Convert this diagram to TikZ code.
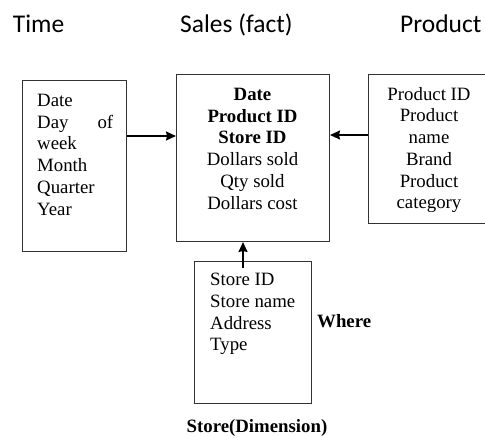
\documentclass[tikz,border=0pt]{standalone}
\usepackage{fontspec}
\setmainfont{Liberation Serif}
\newfontfamily\headfont{Carlito}
\usetikzlibrary{arrows.meta}

\begin{document}
\begin{tikzpicture}[x=1pt,y=-1pt,
		box/.style={draw=black!80,line width=1pt,inner sep=0pt,anchor=north west},
		field/.style={inner sep=0pt,font=\fontsize{18.8}{21.7}\selectfont},
		title/.style={inner sep=0pt,anchor=base west,font=\headfont\fontsize{25.5}{30}\selectfont},
		arr/.style={line width=1.5pt,-{Stealth[length=10pt,width=9pt,inset=1pt]}}]
	\useasboundingbox (0,0) rectangle (485,437);
	
	% Titles
	\node[title] (ttime) at (12.7,32.3) {Time};
	\node[title] (tsales) at (180,32.3) {Sales (fact)};
	\node[title] (tprod) at (400,32.3) {Product};
	
	% Boxes
	\node[box,minimum width=104pt,minimum height=171pt] (time) at (22,80) {};
	\node[box,minimum width=153pt,minimum height=167pt] (sales) at (176,74) {};
	\node[box,minimum width=122pt,minimum height=149pt] (product) at (368,74) {};
	\node[box,minimum width=117pt,minimum height=142pt] (store) at (194,261) {};
	
	% Fields
	\node[field,anchor=north west,text width=76pt,align=justify] (timef) at (37,94)
		{Date\\Day of week\\Month\\Quarter\\Year};
	\node[field,anchor=north,align=center] (salesf) at (252.5,88)
		{\textbf{Date}\\\textbf{Product ID}\\\textbf{Store ID}\\Dollars sold\\Qty sold\\Dollars cost};
	\node[field,anchor=north,align=center] (prodf) at (429,87)
		{Product ID\\Product\\name\\Brand\\Product\\category};
	\node[field,anchor=north west,align=left] (storef) at (210,273)
		{Store ID\\Store name\\Address\\Type};
	\node[field,anchor=base west,font=\fontsize{18.8}{21.7}\selectfont\bfseries] (where) at (317,327) {Where};
	\node[field,anchor=base,font=\fontsize{18.8}{21.7}\selectfont\bfseries] (storet) at (257,432.5) {Store(Dimension)};
	
	% Connectors
	\coordinate (ta) at (0,136);
	\coordinate (pa) at (0,135);
	\coordinate (sa) at (243,268);
	\draw[arr] (time.east |- ta) -- (sales.west |- ta);
	\draw[arr] (product.west |- pa) -- (sales.east |- pa);
	\draw[arr] (sa) -- (sa |- sales.south);
\end{tikzpicture}
\end{document}
